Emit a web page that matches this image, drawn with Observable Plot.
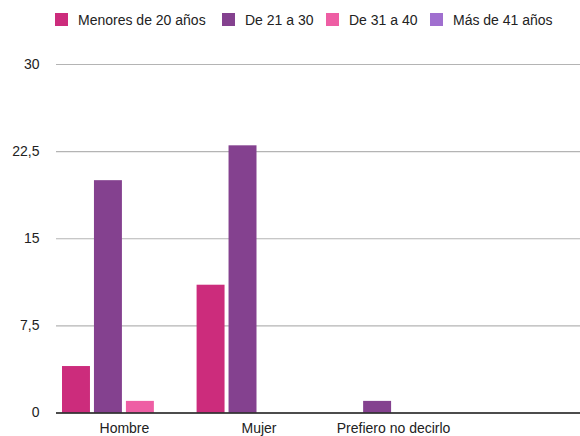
<!DOCTYPE html>
<html>
<head>
<meta charset="utf-8">
<script src="https://cdn.jsdelivr.net/npm/d3@7"></script>
<script src="https://cdn.jsdelivr.net/npm/@observablehq/plot@0.6"></script>
<style>
  html, body { margin: 0; padding: 0; background: #fff; }
  #wrap { position: relative; width: 580px; height: 436px; font-family: "Liberation Sans", Arial, Helvetica, sans-serif; }
  #legend { position: absolute; top: 0; left: 0; width: 580px; height: 40px; }
  .item { position: absolute; top: 13px; height: 13px; display: flex; align-items: center; font-size: 14px; color: #222; white-space: nowrap; }
  .sw { width: 13px; height: 13px; margin-right: 10px; box-sizing: border-box; }
  #chart { position: absolute; top: 40px; left: 0; }
</style>
</head>
<body>
<div id="wrap">
  <div id="legend"></div>
  <div id="chart"></div>
</div>
<script>
const categories = ["Hombre", "Mujer", "Prefiero no decirlo"];
const series = ["Menores de 20 años", "De 21 a 30", "De 31 a 40", "Más de 41 años"];
const colors = ["#CC2C7C", "#84418F", "#EE5EA4", "#A06FCF"];
const menores20 = [4, 11, 0];
const de21a30 = [20, 23, 1];
const de31a40 = [1, 0, 0];
const mas41 = [0, 0, 0];
const yTicks = [0, 7.5, 15, 22.5, 30];

const seriesValues = [menores20, de21a30, de31a40, mas41];
const data = [];
series.forEach((s, j) => categories.forEach((c, i) => data.push({cat: c, series: s, value: seriesValues[j][i]})));

// legend
const legendLefts = [55, 222, 326, 430];
const legend = document.getElementById("legend");
series.forEach((s, j) => {
  const it = document.createElement("div");
  it.className = "item";
  it.style.left = legendLefts[j] + "px";
  const sw = document.createElement("span");
  sw.className = "sw";
  sw.style.background = colors[j];
  const tx = document.createElement("span");
  tx.textContent = s;
  it.appendChild(sw); it.appendChild(tx);
  legend.appendChild(it);
});

const xRange = [62, 455];
const padInner = 0.08;
const bw = (xRange[1] - xRange[0]) / (categories.length - padInner) * (1 - padInner);
const inner = d3.scaleBand().domain(series).range([0, bw]).paddingInner(0.125);

const fmt = d => String(d).replace(".", ",");

const plot = Plot.plot({
  width: 580,
  height: 396,
  marginTop: 24,
  marginBottom: 23.5,
  marginLeft: 56,
  marginRight: 0,
  style: {fontFamily: '"Liberation Sans", Arial, Helvetica, sans-serif', fontSize: "14px", color: "#222", background: "#fff", overflow: "visible"},
  x: {type: "band", domain: categories, range: xRange, paddingInner: padInner, paddingOuter: 0, round: false, label: null},
  y: {domain: [0, 30], label: null},
  color: {domain: series, range: colors},
  marks: [
    Plot.ruleY(yTicks.filter(d => d > 0), {stroke: "#b4b4b4", strokeWidth: 1.2}),
    ...series.map(s => Plot.barY(data.filter(d => d.series === s), {
      x: "cat", y: "value", fill: "series",
      insetLeft: inner(s), insetRight: bw - inner(s) - inner.bandwidth()
    })),
    Plot.ruleY([0], {stroke: "#111", strokeWidth: 1.5}),
    Plot.axisY({ticks: yTicks, tickFormat: fmt, tickSize: 0, tickPadding: 17, fontSize: 14, label: null}),
    Plot.axisX({tickSize: 0, tickPadding: 10, fontSize: 14, label: null})
  ]
});
document.getElementById("chart").appendChild(plot);
</script>
</body>
</html>
